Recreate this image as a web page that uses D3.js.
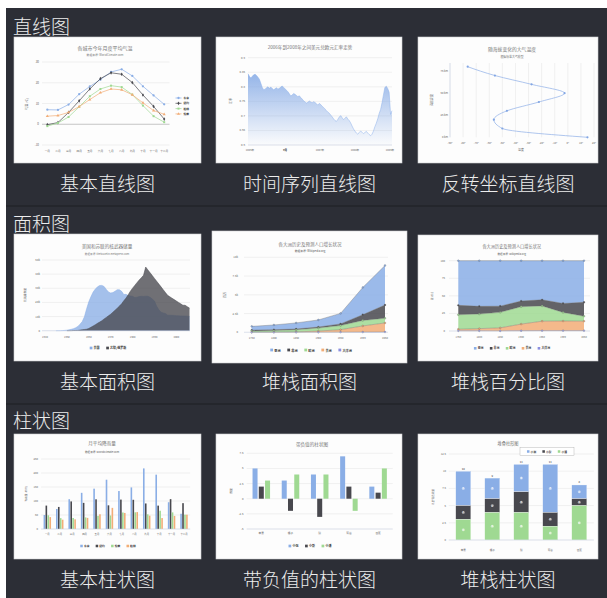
<!DOCTYPE html>
<html><head><meta charset="utf-8">
<script src="https://cdn.jsdelivr.net/npm/d3@7/dist/d3.min.js"></script>
<style>html,body{margin:0;padding:0;background:#fff;overflow:hidden}svg{display:block}</style>
</head><body><svg id="c" width="607" height="598"></svg>
<script>
// ---------------- DATA ----------------
const sectionTitles = ['直线图', '面积图', '柱状图'];
const captions = ['基本直线图', '时间序列直线图', '反转坐标直线图',
                  '基本面积图', '堆栈面积图', '堆栈百分比图',
                  '基本柱状图', '带负值的柱状图', '堆栈柱状图'];
const palette = ['#8aaee6', '#48484e', '#9fd992', '#f2ad77', '#8b8fe0'];

// 1. basic line
const months = ['一月','二月','三月','四月','五月','六月','七月','八月','九月','十月','十一月','十二月'];
const tempNames = ['东京', '纽约', '柏林', '伦敦'];
const tempTokyo   = [7.0, 6.9, 9.5, 14.5, 18.2, 21.5, 25.2, 26.5, 23.3, 18.3, 13.9, 9.6];
const tempNewYork = [-0.2, 0.8, 5.7, 11.3, 17.0, 22.0, 24.8, 24.1, 20.1, 14.1, 8.6, 2.5];
const tempBerlin  = [-0.9, 0.6, 3.5, 8.4, 13.5, 17.0, 18.6, 17.9, 14.3, 9.0, 3.9, 1.0];
const tempLondon  = [3.9, 4.2, 5.7, 8.5, 11.9, 15.2, 17.0, 16.6, 14.2, 10.3, 6.6, 4.8];
const tempTicks = [-10, 0, 10, 20, 30];

// 2. time series (USD/EUR)
const fxValues = [0.845, 0.836, 0.830, 0.836, 0.841, 0.843, 0.839, 0.833, 0.826, 0.812, 0.798, 0.790,
  0.792, 0.797, 0.800, 0.795, 0.799, 0.794, 0.790, 0.793, 0.797, 0.792, 0.795, 0.799, 0.803, 0.798, 0.793, 0.788, 0.783,
  0.776, 0.768, 0.772, 0.777, 0.774, 0.770, 0.766, 0.769, 0.763, 0.758, 0.752, 0.748, 0.744, 0.747, 0.751, 0.748, 0.745, 0.749, 0.746,
  0.742, 0.737, 0.743, 0.739, 0.733, 0.729, 0.724, 0.718, 0.713, 0.709, 0.703, 0.697,
  0.690, 0.684, 0.681, 0.688, 0.696, 0.701, 0.694, 0.687, 0.692, 0.697, 0.689, 0.684, 0.676, 0.665,
  0.655, 0.648, 0.641, 0.637, 0.643, 0.648, 0.644, 0.639, 0.643, 0.647, 0.641, 0.636, 0.632, 0.637,
  0.648, 0.663, 0.675, 0.690, 0.708, 0.722, 0.745, 0.772, 0.798, 0.802, 0.794, 0.781, 0.705, 0.718];
const fxTicks = [0.6, 0.65, 0.7, 0.75, 0.8, 0.85, 0.9];
const fxTickLabels = ['2006年', '7月', '2007年', '7月', '2008年', '7月', '2009年'];

// 3. inverted axes
const altKm = [0, 10, 20, 30, 40, 50, 60, 70, 80];
const altTemp = [15, -50, -56.5, -46.5, -22.1, -2.5, -27.7, -55.7, -76.5];
const altTicks = [0, 25, 50, 75];
const altTempTicks = [-90, -80, -70, -60, -50, -40, -30, -20, -10, 0, 10, 20];

// 4. basic area (1940-2006)
const nukeNames = ['美国', '苏联/俄罗斯'];
const nukeUSA = [null, null, null, null, null, 6, 11, 32, 110, 235, 369, 640, 1005, 1436, 2063, 3057, 4618, 6444, 9822, 15468,
  20434, 24126, 27387, 29459, 31056, 31982, 32040, 31233, 29224, 27342, 26662, 26956, 27912, 28999, 28965, 27826, 25579, 25722,
  24826, 24605, 24304, 23464, 23708, 24099, 24357, 24237, 24401, 24344, 23586, 22380, 21004, 17287, 14747, 13076, 12555, 12144,
  11009, 10950, 10871, 10824, 10577, 10527, 10475, 10421, 10358, 10295, 10104];
const nukeUSSR = [null, null, null, null, null, null, null, null, null, null, 5, 25, 50, 120, 150, 200, 426, 660, 869, 1060,
  1605, 2471, 3322, 4238, 5221, 6129, 7089, 8339, 9399, 10538, 11643, 13092, 14478, 15915, 17385, 19055, 21205, 23044, 25393,
  27935, 30062, 32049, 33952, 35804, 37431, 39197, 45000, 43000, 41000, 39000, 37000, 35000, 33000, 31000, 29000, 27000, 25000,
  24000, 23000, 22000, 21000, 20000, 19000, 18000, 18000, 17000, 16000];
const nukeStartYear = 1940;
const nukeTicks = [0, 10000, 20000, 30000, 40000, 50000];
const nukeYearTicks = [1940, 1950, 1960, 1970, 1980, 1990, 2000];

// 5/6. stacked area
const popYears = ['1750', '1800', '1850', '1900', '1950', '1999', '2050'];
const popRegions = ['亚洲', '非洲', '欧洲', '美洲', '大洋洲'];
const popAsia    = [502, 635, 809, 947, 1402, 3634, 5268];
const popAfrica  = [106, 107, 111, 133, 221, 767, 1766];
const popEurope  = [163, 203, 276, 408, 547, 729, 628];
const popAmerica = [18, 31, 54, 156, 339, 818, 1201];
const popOceania = [2, 2, 2, 6, 13, 30, 46];
const popTicks = [0, 2500, 5000, 7500, 10000];
const popTickLabels = ['0', '2.5k', '5k', '7.5k', '10k'];
const pctTicks = [0, 25, 50, 75, 100];

// 7. basic column
const rainNames = ['东京', '纽约', '伦敦', '柏林'];
const rainTokyo   = [49.9, 71.5, 106.4, 129.2, 144.0, 176.0, 135.6, 148.5, 216.4, 194.1, 95.6, 54.4];
const rainNewYork = [83.6, 78.8, 98.5, 93.4, 106.0, 84.5, 105.0, 104.3, 91.2, 83.5, 106.6, 92.3];
const rainLondon  = [48.9, 38.8, 39.3, 41.4, 47.0, 48.3, 59.0, 59.6, 52.4, 65.2, 59.3, 51.2];
const rainBerlin  = [42.4, 33.2, 34.5, 39.7, 52.6, 75.5, 57.4, 60.4, 47.6, 39.1, 46.8, 51.1];
const rainTicks = [0, 50, 100, 150, 200, 250];

// 8. negative column
const fruits = ['苹果', '橘子', '梨', '葡萄', '香蕉'];
const people = ['小张', '小彭', '小潘'];
const negZhang = [5, 3, 4, 7, 2];
const negPeng  = [2, -2, -3, 2, 1];
const negPan   = [3, 4, 4, -2, 5];
const negTicks = [-5, -2.5, 0, 2.5, 5, 7.5];

// 9. stacked column
const stkZhang = [5, 3, 4, 7, 2];
const stkPeng  = [2, 2, 3, 2, 1];
const stkPan   = [3, 4, 4, 2, 5];
const stkTicks = [0, 2.5, 5, 7.5, 10, 12.5];

// ---------------- HELPERS ----------------
const FONT = '"Noto Sans CJK SC","Noto Sans",sans-serif';
const svg = d3.select('#c');

function txt(g, x, y, s, o = {}) {
  const t = g.append('text').attr('x', x).attr('y', y).text(s)
    .attr('font-family', FONT).attr('font-size', o.size || 3.2)
    .attr('fill', o.fill || '#666').attr('text-anchor', o.anchor || 'middle')
    .attr('dominant-baseline', 'central');
  if (o.weight) t.attr('font-weight', o.weight);
  if (o.rotate) t.attr('transform', `rotate(${o.rotate},${x},${y})`);
  return t;
}
function thumb(x, y, w, h) {
  const g = svg.append('g');
  g.append('rect').attr('x', x).attr('y', y).attr('width', w).attr('height', h)
    .attr('fill', '#fdfdfd').attr('stroke', '#cfd0d4').attr('stroke-width', 0.6);
  return g;
}
function hGrid(g, scale, ticks, x0, x1, lx, labels, o = {}) {
  ticks.forEach((v, i) => {
    g.append('line').attr('x1', x0).attr('x2', x1).attr('y1', scale(v)).attr('y2', scale(v))
      .attr('stroke', (o.zero && v === 0) ? '#8c8c8c' : '#e3e3e3').attr('stroke-width', 0.5);
    txt(g, lx, scale(v), labels ? labels[i] : String(v), { size: o.size || 3.2, anchor: 'end' });
  });
}
function baseLine(g, x0, x1, y) {
  g.append('line').attr('x1', x0).attr('x2', x1).attr('y1', y).attr('y2', y)
    .attr('stroke', '#ccd6eb').attr('stroke-width', 0.5);
}
function hLegend(g, cx, y, names, colors, size) {
  const lg = g.append('g');
  let xx = 0;
  names.forEach((n, i) => {
    lg.append('rect').attr('x', xx).attr('y', y - size * 0.45).attr('width', size * 0.9).attr('height', size * 0.9)
      .attr('fill', colors[i]);
    const t = txt(lg, xx + size * 1.3, y, n, { size: size, anchor: 'start', fill: '#333', weight: 'bold' });
    xx += size * 1.3 + t.node().getComputedTextLength() + size * 2.2;
  });
  const w = xx - size * 2.2;
  lg.attr('transform', `translate(${cx - w / 2},0)`);
  return lg;
}

// ---------------- PANEL ----------------
svg.append('rect').attr('x', 6).attr('y', 8).attr('width', 601).attr('height', 590).attr('fill', '#2c2e36');
[206, 404].forEach(yy => svg.append('line').attr('x1', 6).attr('x2', 607).attr('y1', yy).attr('y2', yy)
  .attr('stroke', '#1d1e23').attr('stroke-width', 1.2));
const headerY = [25, 222.5, 419.5];
const captionY = [182.5, 380.5, 578];
const colX = [107.5, 309.5, 508];
sectionTitles.forEach((s, i) => txt(svg, 13, headerY[i], s, { size: 19, anchor: 'start', fill: '#ededed', weight: 300 }));
captions.forEach((s, i) => txt(svg, colX[i % 3], captionY[Math.floor(i / 3)], s, { size: 19, fill: '#ededed', weight: 300 }));

// ---------------- 1. BASIC LINE ----------------
{
  const g = thumb(14, 37, 187, 126);
  txt(g, 105, 47, '各城市今年月度平均气温', { size: 5, fill: '#777' });
  txt(g, 105, 55, '数据来源: WorldClimate.com', { size: 2.8, fill: '#777' });
  const x = d3.scaleBand().domain(months).range([42, 169.5]);
  const y = d3.scaleLinear().domain([-10, 30]).range([145, 62]);
  hGrid(g, y, tempTicks, 42, 169.5, 39, null, { zero: true, size: 3 });
  txt(g, 27, 104, '气温 (°C)', { size: 3, rotate: -90 });
  months.forEach(m => txt(g, x(m) + x.bandwidth() / 2, 151, m, { size: 2.7 }));
  const series = [tempTokyo, tempNewYork, tempBerlin, tempLondon];
  const syms = [d3.symbolCircle, d3.symbolDiamond, d3.symbolSquare, d3.symbolTriangle];
  const line = d3.line().x((d, i) => x(months[i]) + x.bandwidth() / 2).y(d => y(d));
  series.forEach((s, k) => {
    g.append('path').attr('d', line(s)).attr('fill', 'none').attr('stroke', palette[k]).attr('stroke-width', 0.7);
    s.forEach((d, i) => g.append('path').attr('d', d3.symbol(syms[k], 4)())
      .attr('transform', `translate(${x(months[i]) + x.bandwidth() / 2},${y(d)})`).attr('fill', palette[k]));
  });
  tempNames.forEach((n, k) => {
    const yy = 98 + k * 5.3;
    g.append('line').attr('x1', 175.5).attr('x2', 181.5).attr('y1', yy).attr('y2', yy).attr('stroke', palette[k]).attr('stroke-width', 0.7);
    g.append('path').attr('d', d3.symbol(syms[k], 4)()).attr('transform', `translate(178.5,${yy})`).attr('fill', palette[k]);
    txt(g, 183.5, yy, n, { size: 2.8, anchor: 'start', fill: '#333', weight: 'bold' });
  });
}

// ---------------- 2. TIME SERIES ----------------
{
  const g = thumb(216, 37, 186, 126);
  txt(g, 310, 47, '2006年到2008年之间美元兑欧元汇率走势', { size: 4.6, fill: '#777' });
  const x = d3.scaleLinear().domain([0, fxValues.length - 1]).range([248, 392]);
  const y = d3.scaleLinear().domain([0.6, 0.9]).range([145, 57.7]);
  hGrid(g, y, fxTicks, 248, 392, 245, fxTicks.map(v => String(+v.toFixed(2))), { size: 2.8 });
  txt(g, 231, 101, '汇率', { size: 3, rotate: -90 });
  const grad = svg.append('defs').append('linearGradient').attr('id', 'fxg')
    .attr('gradientUnits', 'userSpaceOnUse').attr('x1', 0).attr('x2', 0).attr('y1', y(0.9)).attr('y2', y(0.6));
  grad.append('stop').attr('offset', 0).attr('stop-color', '#7ea5e4').attr('stop-opacity', 1);
  grad.append('stop').attr('offset', 1).attr('stop-color', '#7ea5e4').attr('stop-opacity', 0.02);
  const area = d3.area().x((d, i) => x(i)).y0(y(0.6)).y1(d => y(d));
  g.append('path').attr('d', area(fxValues)).attr('fill', 'url(#fxg)');
  g.append('path').attr('d', d3.line().x((d, i) => x(i)).y(d => y(d))(fxValues))
    .attr('fill', 'none').attr('stroke', '#8cb0ea').attr('stroke-width', 0.5);
  baseLine(g, 248, 392, 145);
  const xt = d3.scalePoint().domain(fxTickLabels).range([250, 390]);
  fxTickLabels.forEach(l => txt(g, xt(l), 150, l, { size: 2.6 }));
}

// ---------------- 3. INVERTED ----------------
{
  const g = thumb(418, 37, 180, 126);
  txt(g, 512, 48, '随海拔变化的大气温度', { size: 4.8, fill: '#777' });
  txt(g, 512, 57, '根据标准大气模型', { size: 2.9, fill: '#777' });
  const x = d3.scaleLinear().domain([-90, 20]).range([450, 594]);
  const y = d3.scaleLinear().domain([0, 80]).range([137.3, 66.7]);
  altTempTicks.forEach(v => {
    g.append('line').attr('x1', x(v)).attr('x2', x(v)).attr('y1', 63).attr('y2', 137.3)
      .attr('stroke', '#e3e3e3').attr('stroke-width', 0.5);
    txt(g, x(v), 143, v + '°', { size: 2.7 });
  });
  g.append('line').attr('x1', 450).attr('x2', 450).attr('y1', 63).attr('y2', 137.3).attr('stroke', '#ccd6eb').attr('stroke-width', 0.6);
  altTicks.forEach(v => txt(g, 448, y(v), v + ' km', { size: 2.7, anchor: 'end' }));
  txt(g, 521, 150, '温度', { size: 2.9 });
  txt(g, 432, 100, '海拔高度', { size: 2.9, rotate: -90 });
  const line = d3.line().x((d, i) => x(altTemp[i])).y(d => y(d)).curve(d3.curveMonotoneY);
  g.append('path').attr('d', line(altKm)).attr('fill', 'none').attr('stroke', '#9ab8ea').attr('stroke-width', 0.8);
  altKm.forEach((d, i) => g.append('circle').attr('cx', x(altTemp[i])).attr('cy', y(d)).attr('r', 1.1).attr('fill', '#82a6e4'));
}

// ---------------- 4. BASIC AREA ----------------
{
  const g = thumb(14, 234, 187, 127);
  txt(g, 107, 246, '美国和苏联的核武器储量', { size: 4.6, fill: '#777' });
  txt(g, 107, 254, '数据来源: thebulletin.metapress.com', { size: 2.6, fill: '#777' });
  const years = nukeUSA.map((d, i) => nukeStartYear + i);
  const x = d3.scaleLinear().domain([1940, 2006]).range([45, 189.5]);
  const y = d3.scaleLinear().domain([0, 50000]).range([330.7, 260]);
  hGrid(g, y, nukeTicks, 42, 190, 40, nukeTicks.map(v => v === 0 ? '0' : v / 1000 + 'k'), { size: 2.8 });
  txt(g, 25, 295, '核武器数量', { size: 2.8, rotate: -90 });
  [nukeUSA, nukeUSSR].forEach((s, k) => {
    const area = d3.area().defined(d => d != null).x((d, i) => x(years[i])).y0(y(0)).y1(d => y(d));
    g.append('path').attr('d', area(s)).attr('fill', palette[k]).attr('fill-opacity', 0.78);
    g.append('path').attr('d', d3.line().defined(d => d != null).x((d, i) => x(years[i])).y(d => y(d))(s))
      .attr('fill', 'none').attr('stroke', palette[k]).attr('stroke-width', 0.5);
  });
  baseLine(g, 42, 190, 330.7);
  nukeYearTicks.forEach(v => txt(g, x(v), 337, String(v), { size: 2.6 }));
  hLegend(g, 108, 348, nukeNames, palette, 3);
}

// ---------------- 5/6. STACKED AREA ----------------
const popKeys = [popAsia, popAfrica, popEurope, popAmerica, popOceania];
const popRows = popYears.map((yr, i) => { const o = { year: yr }; popRegions.forEach((r, k) => o[r] = popKeys[k][i]); return o; });
function stackedArea(g, stackGen, x, y) {
  const layers = stackGen(popRows);
  const area = d3.area().x(d => x(d.data.year)).y0(d => y(d[0])).y1(d => y(d[1]));
  layers.forEach(L => {
    const k = popRegions.indexOf(L.key);
    g.append('path').attr('d', area(L)).attr('fill', palette[k]).attr('fill-opacity', 0.85);
  });
  layers.forEach(L => {
    const k = popRegions.indexOf(L.key);
    g.append('path').attr('d', d3.line().x(d => x(d.data.year)).y(d => y(d[1]))(L))
      .attr('fill', 'none').attr('stroke', '#666').attr('stroke-width', 0.35);
    L.forEach(d => g.append('circle').attr('cx', x(d.data.year)).attr('cy', y(d[1])).attr('r', 0.9)
      .attr('fill', palette[k]).attr('stroke', '#666').attr('stroke-width', 0.3));
  });
}
{
  const g = thumb(212, 231, 195, 132);
  txt(g, 310, 244, '各大洲历史及预测人口增长状况', { size: 4.5, fill: '#777' });
  txt(g, 310, 251, '数据来源: Wikipedia.org', { size: 2.8, fill: '#555' });
  const x = d3.scalePoint().domain(popYears).range([251.7, 385]);
  const y = d3.scaleLinear().domain([0, 10000]).range([332.3, 257.3]);
  hGrid(g, y, popTicks, 244, 388, 238, popTickLabels, { size: 2.8 });
  txt(g, 225, 295, '百万', { size: 3, rotate: -90 });
  stackedArea(g, d3.stack().keys(popRegions).order(d3.stackOrderReverse), x, y);
  baseLine(g, 244, 388, 332.3);
  popYears.forEach(v => txt(g, x(v), 338, v, { size: 2.6 }));
  hLegend(g, 311, 350, popRegions, palette, 3.1);
}
{
  const g = thumb(418, 235, 180, 126);
  txt(g, 511.7, 245.7, '各大洲历史及预测人口增长状况', { size: 4.2, fill: '#777' });
  txt(g, 511.7, 254, '数据来源: Wikipedia.org', { size: 2.6, fill: '#555' });
  const x = d3.scalePoint().domain(popYears).range([458.3, 584]);
  const y = d3.scaleLinear().domain([0, 100]).range([331, 260.7]);
  hGrid(g, y, pctTicks, 449, 590, 445, null, { size: 2.7 });
  txt(g, 431.7, 296, '百分比', { size: 2.8, rotate: -90 });
  const yy = d => y(d * 100);
  stackedArea(g, d3.stack().keys(popRegions).order(d3.stackOrderReverse).offset(d3.stackOffsetExpand), x, yy);
  baseLine(g, 449, 590, 331);
  popYears.forEach(v => txt(g, x(v), 336.7, v, { size: 2.5 }));
  hLegend(g, 512, 348.3, popRegions, palette, 2.9);
}

// ---------------- 7. BASIC COLUMN ----------------
{
  const g = thumb(14, 434, 187, 125);
  txt(g, 102, 443.3, '月平均降雨量', { size: 4.6, fill: '#777' });
  txt(g, 102, 452.3, '数据来源: WorldClimate.com', { size: 2.6, fill: '#555' });
  const x0 = d3.scaleBand().domain(months).range([41.1, 190.2]);
  const x1 = d3.scaleBand().domain(rainNames).range([x0.bandwidth() * 0.2, x0.bandwidth() * 0.8]).paddingInner(0.18);
  const y = d3.scaleLinear().domain([0, 250]).range([529, 459]);
  hGrid(g, y, rainTicks, 41.1, 190.2, 38, null, { size: 2.7 });
  txt(g, 26, 494, '降雨量 (mm)', { size: 2.7, rotate: -90 });
  const series = [rainTokyo, rainNewYork, rainLondon, rainBerlin];
  series.forEach((s, k) => s.forEach((v, i) => g.append('rect')
    .attr('x', x0(months[i]) + x1(rainNames[k])).attr('width', x1.bandwidth())
    .attr('y', y(v)).attr('height', y(0) - y(v)).attr('fill', palette[k])));
  baseLine(g, 41.1, 190.2, 529);
  months.forEach(m => txt(g, x0(m) + x0.bandwidth() / 2, 533.5, m, { size: 2.4 }));
  hLegend(g, 108, 546, rainNames, palette, 2.8);
}

// ---------------- 8. NEGATIVE COLUMN ----------------
{
  const g = thumb(216, 434, 186, 125);
  txt(g, 312, 444, '带负值的柱状图', { size: 4.6, fill: '#777' });
  const x0 = d3.scaleBand().domain(fruits).range([246.7, 392.7]);
  const x1 = d3.scaleBand().domain(people).range([x0.bandwidth() * 0.2, x0.bandwidth() * 0.8]).paddingInner(0.2);
  const y = d3.scaleLinear().domain([-5, 7.5]).range([529, 453.3]);
  hGrid(g, y, negTicks, 246.7, 392.7, 243.5, null, { size: 2.8 });
  txt(g, 231, 491, '数量', { size: 2.8, rotate: -90 });
  [negZhang, negPeng, negPan].forEach((s, k) => s.forEach((v, i) => g.append('rect')
    .attr('x', x0(fruits[i]) + x1(people[k])).attr('width', x1.bandwidth())
    .attr('y', Math.min(y(v), y(0))).attr('height', Math.abs(y(v) - y(0))).attr('fill', palette[k])));
  baseLine(g, 246.7, 392.7, 529);
  fruits.forEach(f => txt(g, x0(f) + x0.bandwidth() / 2, 532.7, f, { size: 2.7 }));
  hLegend(g, 310, 546, people, palette, 3);
}

// ---------------- 9. STACKED COLUMN ----------------
{
  const g = thumb(418, 434, 180, 125);
  txt(g, 508, 443.3, '堆叠柱形图', { size: 4.2, fill: '#777' });
  const x = d3.scaleBand().domain(fruits).range([448.8, 593.8]).paddingInner(0.48).paddingOuter(0.24);
  const y = d3.scaleLinear().domain([0, 12.5]).range([540, 454]);
  hGrid(g, y, stkTicks, 448.8, 593.8, 446, null, { size: 2.7 });
  txt(g, 433, 497, '水果消费总量', { size: 2.7, rotate: -90 });
  const rows = fruits.map((f, i) => ({ f, 小张: stkZhang[i], 小彭: stkPeng[i], 小潘: stkPan[i] }));
  const layers = d3.stack().keys(people).order(d3.stackOrderReverse)(rows);
  layers.forEach(L => {
    const k = people.indexOf(L.key);
    L.forEach(d => {
      g.append('rect').attr('x', x(d.data.f)).attr('width', x.bandwidth()).attr('y', y(d[1]))
        .attr('height', y(d[0]) - y(d[1])).attr('fill', palette[k]).attr('stroke', '#fff').attr('stroke-width', 0.3);
      const cy = (y(d[0]) + y(d[1])) / 2;
      g.append('circle').attr('cx', x(d.data.f) + x.bandwidth() / 2).attr('cy', cy).attr('r', 1.5)
        .attr('fill', '#fff').attr('fill-opacity', 0.45);
      txt(g, x(d.data.f) + x.bandwidth() / 2, cy, String(d.data[L.key]), { size: 2.4, fill: '#fff', weight: 'bold' });
    });
  });
  rows.forEach((r, i) => {
    const tot = stkZhang[i] + stkPeng[i] + stkPan[i];
    txt(g, x(r.f) + x.bandwidth() / 2, y(tot) - 2.5, String(tot), { size: 2.6, fill: '#666', weight: 'bold' });
  });
  baseLine(g, 448.8, 593.8, 540);
  fruits.forEach(f => txt(g, x(f) + x.bandwidth() / 2, 550, f, { size: 2.6 }));
  g.append('rect').attr('x', 520).attr('y', 447.7).attr('width', 54).attr('height', 7.5)
    .attr('fill', '#fff').attr('stroke', '#aaa').attr('stroke-width', 0.4);
  hLegend(g, 547, 451.5, people, palette, 2.8);
}
</script></body></html>
